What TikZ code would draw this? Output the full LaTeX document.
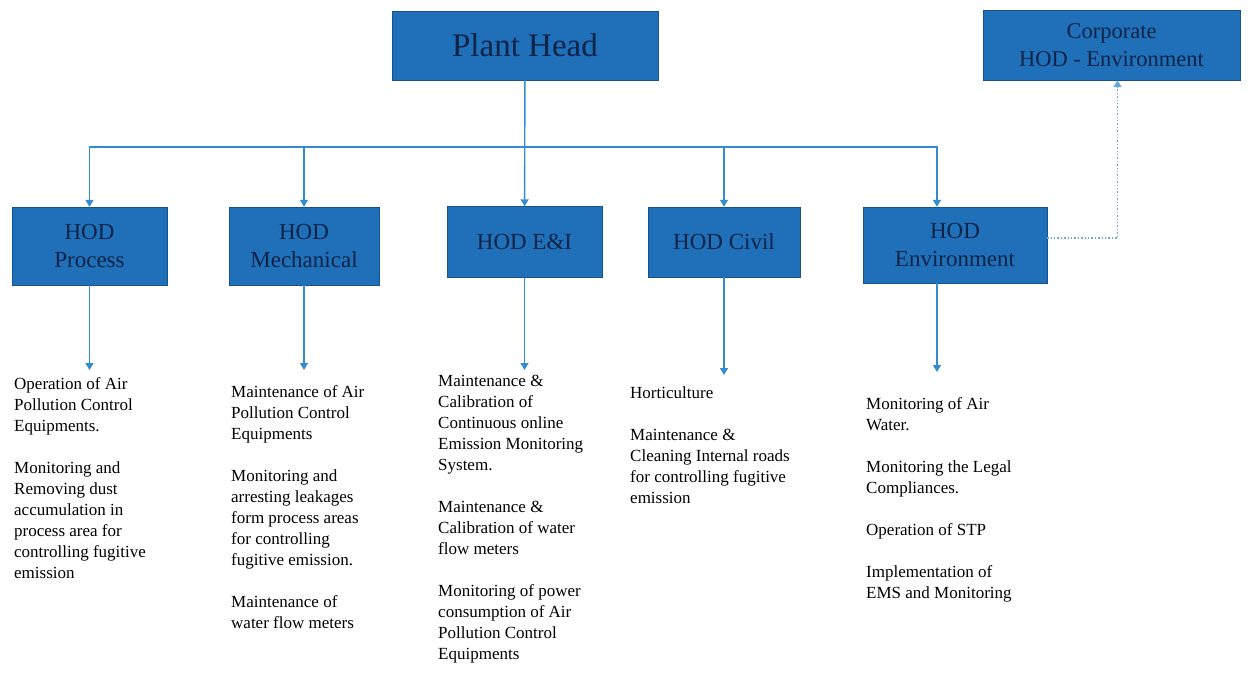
\documentclass[tikz,border=0pt]{standalone}
\usepackage{fontspec}
\setmainfont{Liberation Serif}
\usetikzlibrary{arrows.meta}
\definecolor{boxblue}{RGB}{31,111,185}
\definecolor{boxline}{RGB}{22,82,142}
\definecolor{boxtext}{RGB}{16,36,72}
\definecolor{linkblue}{RGB}{52,140,208}
\begin{document}
\begin{tikzpicture}[x=1pt,y=-1pt,
        hodbox/.style={draw=boxline,fill=boxblue,text=boxtext,align=center,inner sep=0pt,font=\fontsize{23}{28}\selectfont},
        link/.style={linkblue,line width=1.4pt,-{Triangle[width=8pt,length=7pt]}},
        duty/.style={anchor=north west,align=left,inner sep=0pt,font=\fontsize{17}{21}\selectfont}]
            \useasboundingbox (0,0) rectangle (1254,673);
            \node[hodbox,minimum width=266pt,minimum height=69pt,font=\fontsize{33}{36}\selectfont] (plant) at (525,45.5) {Plant Head};
            \node[hodbox,minimum width=257pt,minimum height=70pt,font=\fontsize{22.5}{28}\selectfont] (corp) at (1111.5,45) {Corporate\\HOD - Environment};
            \node[hodbox,minimum width=155pt,minimum height=78pt] (process) at (89.5,246) {HOD\\Process};
            \node[hodbox,minimum width=150pt,minimum height=78pt] (mech) at (304,246) {HOD\\Mechanical};
            \node[hodbox,minimum width=155pt,minimum height=71pt] (eandi) at (524.5,242) {HOD E\&I};
            \node[hodbox,minimum width=152pt,minimum height=70pt] (civil) at (724,242) {HOD Civil};
            \node[hodbox,minimum width=184pt,minimum height=76pt] (env) at (955,245) {HOD\\Environment};
            \coordinate (bar) at (525,147);
            \coordinate (processtip) at (89.5,370);
            \coordinate (mechtip) at (304,370);
            \coordinate (eanditip) at (524.5,370);
            \coordinate (civiltip) at (724,375);
            \coordinate (envtip) at (937,372);
            \draw[link] (plant) -- (eandi);
            \draw[link] (bar) -| (process);
            \draw[link] (bar) -| (mech);
            \draw[link] (bar) -| (civil);
            \draw[link] (bar) -| ([xshift=-18pt]env.north);
            \draw[link] (process) -- (processtip);
            \draw[link] (mech) -- (mechtip);
            \draw[link] (eandi) -- (eanditip);
            \draw[link] (civil) -- (civiltip);
            \draw[link] ([xshift=-18pt]env.south) -- (envtip);
            \draw[link,dotted,linkblue!75,line width=1.3pt] ([yshift=7pt]env.east) -| ([xshift=6pt]corp.south);
            \node[duty] (processtext) at (14,377) {Operation of Air\\Pollution Control\\Equipments.\\[21pt]Monitoring and\\Removing dust\\accumulation in\\process area for\\controlling fugitive\\emission};
            \node[duty] (mechtext) at (231,385) {Maintenance of Air\\Pollution Control\\Equipments\\[21pt]Monitoring and\\arresting leakages\\form process areas\\for controlling\\fugitive emission.\\[21pt]Maintenance of\\water flow meters};
            \node[duty] (eanditext) at (438,375) {Maintenance \&\\Calibration of\\Continuous online\\Emission Monitoring\\System.\\[21pt]Maintenance \&\\Calibration of water\\flow meters\\[21pt]Monitoring of power\\consumption of Air\\Pollution Control\\Equipments};
            \node[duty] (civiltext) at (630,386) {Horticulture\\[21pt]Maintenance \&\\Cleaning Internal roads\\for controlling fugitive\\emission};
            \node[duty] (envtext) at (866,397) {Monitoring of Air\\Water.\\[21pt]Monitoring the Legal\\Compliances.\\[21pt]Operation of STP\\[21pt]Implementation of\\EMS and Monitoring};
\end{tikzpicture}
\end{document}
